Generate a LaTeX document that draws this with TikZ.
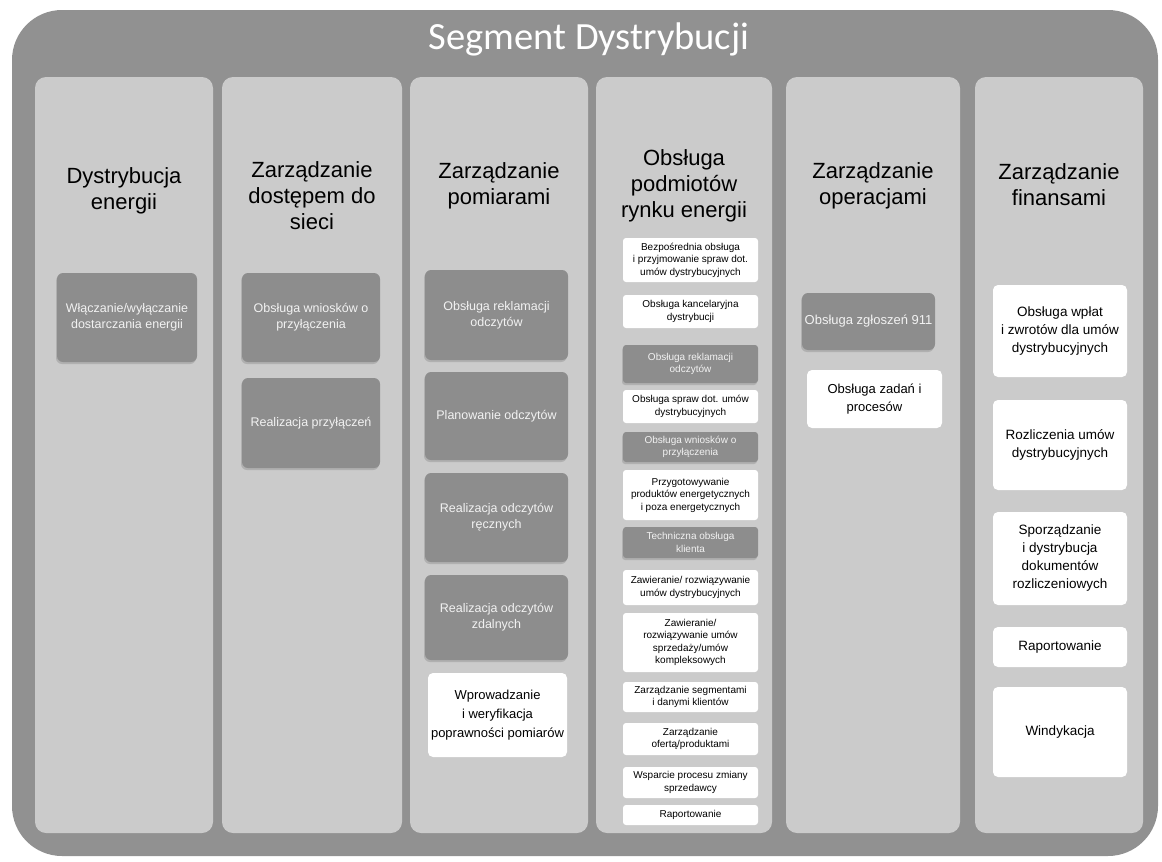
\documentclass[tikz,border=0pt]{standalone}
\usepackage{fontspec}
\setmainfont{Liberation Sans}
\newfontfamily\titlefont{Carlito}
\usepackage{tikz}
\usetikzlibrary{shadows}
\usetikzlibrary{backgrounds}
\definecolor{segment_frame_colour}{HTML}{919191}
\definecolor{column_fill_colour}{HTML}{CBCBCB}
\definecolor{dark_process_colour}{HTML}{8D8D8D}
\definecolor{dark_process_text}{HTML}{F2F2F2}
\newcommand{\headerfont}{\fontsize{22}{26}\selectfont}
\newcommand{\boxfont}{\fontsize{12.5}{16}\selectfont}
\newcommand{\smallboxfont}{\fontsize{10}{12.5}\selectfont}
\newcommand{\whiteboxfont}{\fontsize{13.5}{18}\selectfont}
\tikzstyle{segment_frame} =[fill=segment_frame_colour,rounded corners=50pt,inner sep=0pt]
\tikzstyle{column_node} =[fill=column_fill_colour,rounded corners=11pt,inner sep=0pt,minimum height=756pt]
\tikzstyle{column_header} =[align=center,font=\headerfont,text=black]
\tikzstyle{dark_process_node} =[fill=dark_process_colour,text=dark_process_text,rounded corners=6pt,align=center,inner sep=1pt,font=\boxfont,drop shadow={shadow xshift=-1pt,shadow yshift=-2pt,opacity=0.35}]
\tikzstyle{light_process_node} =[fill=white,rounded corners=5pt,align=center,inner sep=1pt,font=\whiteboxfont]
\tikzstyle{small_dark_node} =[dark_process_node,font=\smallboxfont,rounded corners=3pt,minimum width=135pt]
\tikzstyle{small_light_node} =[light_process_node,font=\smallboxfont,rounded corners=3pt,minimum width=135pt]

\begin{document}
\begin{tikzpicture}[x=1pt,y=-1pt]

    \useasboundingbox (0,0) rectangle (1162,862);

    % Outer frame and title
    \node[segment_frame,minimum width=1146pt,minimum height=846pt] (segment_frame) at (585,433) {};
    \node[text=white,font=\titlefont\fontsize{38.5}{42}\selectfont] (segment_title) at (589,39) {Segment Dystrybucji};



    % Columns
    \node[column_node,minimum width=178pt] (energy_distribution_column) at (124,455) {};
    \node[column_node,minimum width=180pt] (network_access_column) at (312,455) {};
    \node[column_node,minimum width=178pt] (metering_column) at (499,455) {};
    \node[column_node,minimum width=176pt] (market_participants_column) at (684,455) {};
    \node[column_node,minimum width=174pt] (operations_column) at (873,455) {};
    \node[column_node,minimum width=168pt] (finance_column) at (1059,455) {};

    \node[column_header] (energy_distribution_header) at (124,191) {Dystrybucja\\energii};
    \node[column_header] (network_access_header) at (312,196) {Zarządzanie\\dostępem do\\sieci};
    \node[column_header] (metering_header) at (499,186) {Zarządzanie\\pomiarami};
    \node[column_header] (market_participants_header) at (684,186) {Obsługa\\podmiotów\\rynku energii};
    \node[column_header] (operations_header) at (873,186) {Zarządzanie\\operacjami};
    \node[column_header] (finance_header) at (1059,185) {Zarządzanie\\finansami};



    % Dystrybucja energii
    \node[dark_process_node,minimum width=140pt,minimum height=89pt] (switching_supply) at (127,317.5) {Włączanie/wyłączanie\\dostarczania energii};

    % Zarzadzanie dostepem do sieci
    \node[dark_process_node,minimum width=138pt,minimum height=89pt] (connection_requests) at (311,317.5) {Obsługa wniosków o\\przyłączenia};
    \node[dark_process_node,minimum width=138pt,minimum height=90pt] (connection_works) at (311,423) {Realizacja przyłączeń};

    % Zarzadzanie pomiarami
    \node[dark_process_node,minimum width=143pt,minimum height=90pt] (reading_complaints) at (496.5,315) {Obsługa reklamacji\\odczytów};
    \node[dark_process_node,minimum width=143pt,minimum height=88pt] (reading_planning) at (496.5,416) {Planowanie odczytów};
    \node[dark_process_node,minimum width=143pt,minimum height=89pt] (manual_readings) at (496.5,517.5) {Realizacja odczytów\\ręcznych};
    \node[dark_process_node,minimum width=143pt,minimum height=85pt] (remote_readings) at (496.5,617.5) {Realizacja odczytów\\zdalnych};
    \node[light_process_node,font=\fontsize{13}{19}\selectfont,minimum width=139pt,minimum height=84pt] (measurement_verification) at (497.5,715) {Wprowadzanie\\i weryfikacja\\poprawności pomiarów};

    % Obsluga podmiotow rynku energii
    \node[small_light_node,minimum height=44pt] (direct_service) at (690.5,260) {Bezpośrednia obsługa\\i przyjmowanie spraw dot.\\umów dystrybucyjnych};
    \node[small_light_node,minimum height=33pt] (office_service) at (690.5,311.5) {Obsługa kancelaryjna\\dystrybucji};
    \node[small_dark_node,minimum height=38pt] (market_reading_complaints) at (690.5,364) {Obsługa reklamacji\\odczytów};
    \node[small_light_node,minimum height=33pt] (contract_matters) at (690.5,406.5) {Obsługa spraw dot. umów\\dystrybucyjnych};
    \node[small_dark_node,minimum height=30pt] (market_connection_requests) at (690.5,447) {Obsługa wniosków o\\przyłączenia};
    \node[small_light_node,minimum height=50pt] (product_preparation) at (690.5,495) {Przygotowywanie\\produktów energetycznych\\i poza energetycznych};
    \node[small_dark_node,minimum height=31pt] (technical_service) at (690.5,542.5) {Techniczna obsługa\\klienta};
    \node[small_light_node,minimum height=35pt] (distribution_contracts) at (690.5,587.5) {Zawieranie/ rozwiązywanie\\umów dystrybucyjnych};
    \node[small_light_node,minimum height=59pt] (sales_contracts) at (690.5,642.5) {Zawieranie/\\rozwiązywanie umów\\sprzedaży/umów\\kompleksowych};
    \node[small_light_node,minimum height=30pt] (customer_segments) at (690.5,697) {Zarządzanie segmentami\\i danymi klientów};
    \node[small_light_node,minimum height=32pt] (offer_management) at (690.5,739) {Zarządzanie\\ofertą/produktami};
    \node[small_light_node,minimum height=31pt] (supplier_switching) at (690.5,782.5) {Wsparcie procesu zmiany\\sprzedawcy};
    \node[small_light_node,minimum height=20pt] (market_reporting) at (690.5,815) {Raportowanie};

    % Zarzadzanie operacjami
    \node[dark_process_node,font=\fontsize{13}{16}\selectfont,minimum width=133pt,minimum height=57pt] (emergency_calls) at (868.5,321.5) {Obsługa zgłoszeń 911};
    \node[light_process_node,font=\fontsize{13}{18}\selectfont,minimum width=135pt,minimum height=58pt] (tasks_and_processes) at (874.5,399) {Obsługa zadań i\\procesów};

    % Zarzadzanie finansami
    \node[light_process_node,minimum width=134pt,minimum height=92pt] (payments_refunds) at (1060,331) {Obsługa wpłat\\i zwrotów dla umów\\dystrybucyjnych};
    \node[light_process_node,minimum width=134pt,minimum height=90pt] (contract_settlement) at (1060,445) {Rozliczenia umów\\dystrybucyjnych};
    \node[light_process_node,minimum width=134pt,minimum height=93pt] (settlement_documents) at (1060,558.5) {Sporządzanie\\i dystrybucja\\dokumentów\\rozliczeniowych};
    \node[light_process_node,minimum width=134pt,minimum height=40pt] (finance_reporting) at (1060,647) {Raportowanie};
    \node[light_process_node,minimum width=134pt,minimum height=90pt] (debt_collection) at (1060,732) {Windykacja};

\end{tikzpicture}
\end{document}
